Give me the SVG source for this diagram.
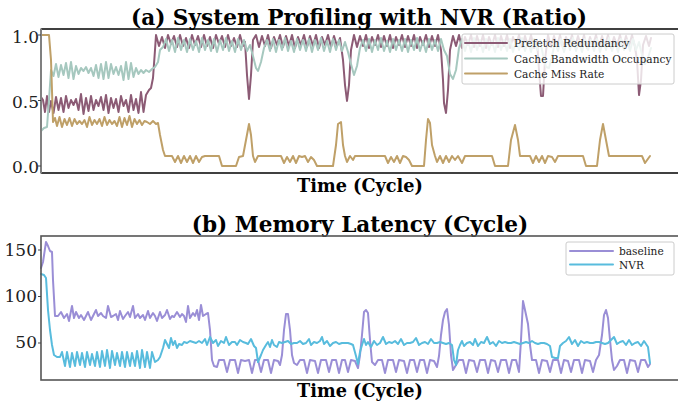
<svg xmlns="http://www.w3.org/2000/svg" width="678" height="403" viewBox="0 0 678 403">
<style>
.title{font-family:"DejaVu Serif",serif;font-weight:bold;font-size:21.6px;fill:#000;text-anchor:middle}
.xl{font-family:"DejaVu Serif",serif;font-weight:bold;font-size:17.7px;fill:#000;text-anchor:middle}
.tk{font-family:"DejaVu Serif",serif;font-size:17px;fill:#222;text-anchor:end}
.lg{font-family:"DejaVu Serif",serif;font-size:10.6px;fill:#222}
.s{fill:none;stroke-width:2;stroke-linejoin:round;stroke-linecap:round}
.pr{stroke:#8c5b75}.bw{stroke:#a6c8bf}.mr{stroke:#bfa068}.bl{stroke:#9a8ed6}.nv{stroke:#58bcdd}
.box{fill:#fff;fill-opacity:0.8;stroke:#cccccc;stroke-width:1}
</style>
<rect width="678" height="403" fill="#fff"/>
<g id="panel-a">
<text class="title" x="359" y="25">(a) System Profiling with NVR (Ratio)</text>
<g id="connectors-a">
<polyline class="s pr" points="41,97 43,100 45,112 47,96 49,112 51,101 53.5,113 56,97 58.5,110 61,98 63.5,112 66,96 68.5,108 71,100 73.5,105 76,99 78.5,110 81,94 83.5,114 86,98 88.5,111 91,96 93.5,110 96,100 98.5,106 101,97 103.5,110 106,95 108.5,113 111,98 113.5,108 116,99 118.5,112 121,96 123.5,106 126,100 128.5,112 131,95 133.5,110 136,99 138.5,113 141,92 143.5,112 146,95 149,90 151,88 153,78 155,50 156,35 159,46 162,37 165,48 168,35 171,44 174,36 177,47 180,35 183,46 186,38 189,48 192,35 195,45 198,36 201,47 204,35 207,46 210,37 213,48 216,35 219,44 222,36 225,47 228,35 231,46 234,38 237,47 240,35 243,46 245,42 247,75 249,99 251,75 253,40 256,35 259,47 262,36 265,46 268,35 271,48 274,37 277,45 280,35 283,47 286,36 289,46 292,35 295,48 298,37 301,45 304,35 307,47 310,36 313,46 316,35 319,48 322,37 325,45 328,35 331,47 334,36 337,46 340,38 343,60 345,85 347,101 349,85 351,50 354,35 357,47 360,36 363,46 366,35 369,48 372,37 375,45 378,35 381,47 384,36 387,46 390,35 393,48 396,37 399,45 402,35 405,47 408,36 411,46 414,35 417,48 420,37 423,45 426,35 429,47 432,36 435,46 438,35 441,50 443,80 444,103 446,113 448,90 450,50 453,36 456,46 459,35 462,48 465,37 468,45 471,35 474,47 477,36 480,46 483,35 486,48 489,37 492,45 495,35 498,47 501,36 504,46 507,35 510,48 513,37 516,45 519,35 522,47 525,36 528,46 531,35 534,48 537,40 539,70 541,96 543,96 545,60 548,35 551,47 554,36 557,46 560,35 563,48 566,37 569,45 572,35 575,47 578,36 581,46 584,35 587,48 590,37 593,45 596,35 599,47 602,36 605,46 608,35 611,48 614,37 617,45 620,35 623,47 626,36 629,46 632,35 635,47 637,60 639,95 641,80 643,45 646,36 649,46 651,38"/>
<polyline class="s bw" points="41,131 44,128 47,127 49,100 51,70 53.5,76 56,64 58.5,77 61,65 63.5,75 66,63 68.5,78 71,62 73.5,79 76,66 78.5,74 81,68 83.5,71 86,67 88.5,73 91,68 93.5,76 96,65 98.5,78 101,64 103.5,79 106,62 108.5,78 111,64 113.5,74 116,67 118.5,75 121,66 123.5,80 126,62 128.5,79 131,63 133.5,77 136,68 138.5,74 141,70 143.5,73 146,70 149,72 152,69 155,67 158,62 160,50 163,47 166,39 169,51 172,40 175,52 178,38 181,50 184,40 187,52 190,39 193,50 196,41 199,52 202,38 205,50 208,40 211,51 214,39 217,52 220,40 223,50 226,38 229,51 232,41 235,52 238,39 241,50 244,40 247,51 250,45 253,56 256,68 258,71 261,62 264,48 267,40 270,51 273,39 276,52 279,40 282,50 285,38 288,51 291,41 294,52 297,39 300,50 303,40 306,51 309,39 312,52 315,40 318,50 321,38 324,51 327,41 330,52 333,39 336,50 339,40 342,51 345,42 348,52 351,64 354,75 357,66 360,48 363,40 366,51 369,39 372,52 375,40 378,50 381,38 384,51 387,41 390,52 393,39 396,50 399,40 402,51 405,39 408,52 411,40 414,50 417,38 420,51 423,41 426,52 429,39 432,50 435,40 438,51 441,39 444,50 447,56 450,74 453,79 456,70 459,48 462,39 465,51 468,40 471,52 474,38 477,50 480,40 483,52 486,39 489,50 492,41 495,52 498,38 501,50 504,40 507,51 510,39 513,52 516,40 519,50 522,38 525,51 528,41 531,52 534,39 537,50 540,40 543,55 546,67 549,68 552,56 555,42 558,51 561,39 564,52 567,40 570,50 573,38 576,51 579,41 582,52 585,39 588,50 591,40 594,51 597,39 600,52 603,40 606,50 609,38 612,51 615,41 618,52 621,39 624,50 627,40 630,51 633,39 636,50 639,42 642,55 645,64 648,58 651,48"/>
<polyline class="s mr" points="41,35 49,35 51,60 53,122 55,118 57,126 59.5,117 62,127 64.5,119 67,125 69.5,118 72,126 74.5,119 77,124 79.5,121 82,124 84.5,120 87,127 89.5,117 92,125 94.5,120 97,124 99.5,119 102,126 104.5,117 107,125 109.5,120 112,124 114.5,121 117,126 119.5,117 122,127 124.5,118 127,125 129.5,116 132,127 134.5,119 137,124 139.5,120 142,125 144.5,121 147,122 150,124 153,121 156,124 158,123 160,135 163,150 165,156 172,156 175,162 178,156 181,163 184,156 187,162 190,156 193,163 196,156 199,162 202,157 205,156 219,156 222,166 236,166 239,157 243,156 246,140 249,124 251,135 253,156 255,162 258,156 281,156 284,163 287,157 290,162 293,156 296,163 299,156 302,157 305,156 308,162 311,157 314,160 317,166 333,166 336,145 338,124 341,122 343,145 345,156 347,162 350,156 353,160 355,156 385,156 388,163 391,157 394,162 397,156 400,163 403,156 406,157 409,160 412,166 424,166 426,140 428,119 430,123 432,145 435,156 437,162 440,156 443,163 446,156 449,162 452,156 455,160 458,156 462,163 465,156 492,156 495,166 508,166 511,140 515,125 518,140 520,156 530,156 533,163 536,156 539,162 542,156 545,163 548,156 552,157 555,162 558,156 583,156 586,166 597,166 600,140 603,124 606,140 609,156 642,156 645,163 650,156"/>
</g>
<line x1="41" y1="29" x2="678" y2="29" stroke="#000" stroke-width="1.3"/>
<line x1="41" y1="173" x2="678" y2="173" stroke="#000" stroke-width="1.3"/>
<line x1="41" y1="28.5" x2="41" y2="173.5" stroke="#808080" stroke-width="2"/>
<g stroke="#444" stroke-width="1"><line x1="38" y1="35" x2="41" y2="35"/><line x1="38" y1="100.5" x2="41" y2="100.5"/><line x1="38" y1="166" x2="41" y2="166"/></g>
<text class="tk" x="39" y="43">1.0</text>
<text class="tk" x="39" y="108">0.5</text>
<text class="tk" x="39" y="173">0.0</text>
<text class="xl" x="360" y="192">Time (Cycle)</text>
<g id="legend-a">
<rect class="box" x="462" y="34" width="212" height="50" rx="2"/>
<line class="s pr" x1="465" y1="43" x2="507" y2="43"/>
<line class="s bw" x1="465" y1="58.5" x2="507" y2="58.5"/>
<line class="s mr" x1="465" y1="73.5" x2="507" y2="73.5"/>
<text class="lg" x="514" y="47">Prefetch Redundancy</text>
<text class="lg" x="514" y="62.5">Cache Bandwidth Occupancy</text>
<text class="lg" x="514" y="77.5">Cache Miss Rate</text>
</g>
</g>
<g id="panel-b">
<text class="title" x="360" y="232">(b) Memory Latency (Cycle)</text>
<g id="connectors-b">
<polyline class="s bl" points="41,268 43,262 46,242 48,246 50,251 52,252 53,280 55,316 58,316 61,312 64,318 67,314 69,321 72,306 74,318 76,312 79,318 81,315 84,320 86,316 88,312 91,320 93,316 96,310 98,316 101,313 103,316 106,318 108,306 111,317 113,316 116,314 118,320 120,311 123,319 125,316 128,312 130,317 133,306 135,318 138,314 140,318 143,315 145,320 148,311 150,318 153,313 155,316 157,321 160,312 162,318 165,315 167,310 170,319 172,316 174,317 177,312 180,317 182,314 184,316 186,322 188,306 190,318 193,313 195,316 197,310 199,320 201,305 203,316 206,314 208,313 210,330 212,360 214,366 217,367 219,360 224,360 227,372 230,360 235,360 238,373 241,360 245,361 249,360 252,373 255,360 258,360 261,372 264,360 268,360 271,373 274,360 278,361 280,365 282,355 284,330 286,314 288,314 290,330 292,355 294,363 297,365 300,360 304,360 307,373 310,360 315,361 318,373 321,360 326,360 329,372 332,360 336,360 339,373 342,360 345,360 348,372 351,360 355,361 358,368 360,355 362,335 364,312 366,310 368,313 370,340 372,362 375,365 378,360 382,360 385,373 388,360 393,360 396,372 399,360 404,361 407,373 410,360 414,360 417,372 420,360 424,360 427,373 430,360 434,361 437,367 439,356 441,335 443,320 445,312 447,309 449,325 451,355 453,370 456,365 459,360 463,360 466,373 469,360 474,361 477,372 480,360 485,360 488,373 491,360 495,361 498,372 501,360 506,360 509,373 512,360 516,360 519,372 521,340 523,301 525,310 528,324 530,345 532,360 536,360 539,373 542,360 547,361 550,372 553,360 558,360 561,373 564,360 568,361 571,372 574,360 579,360 582,373 585,360 590,361 593,372 596,360 599,355 602,335 604,315 606,310 608,318 610,340 612,360 614,370 617,366 620,360 624,360 627,373 630,360 635,361 638,372 641,360 645,360 648,367 650,364"/>
<polyline class="s nv" points="41,274 44,275 46,278 48,310 50,330 52,345 54,355 57,357 60,357 62,352 65,366 67,352 70,367 72,353 75,366 77,352 80,365 82,353 85,367 87,352 90,365 92,354 95,366 97,352 100,367 102,351 105,366 107,350 110,368 112,351 115,365 117,353 120,366 122,352 125,367 127,352 130,366 132,353 135,366 137,351 140,368 142,350 145,367 147,352 150,368 152,352 155,362 158,360 160,357 163,348 165,340 167,344 169,348 171,338 173,345 175,341 177,348 179,344 182,345 184,342 187,343 190,341 193,342 196,343 199,341 202,343 205,339 207,345 210,337 213,343 216,340 218,346 221,341 224,343 226,337 229,345 232,342 235,342 237,345 240,340 243,342 246,343 248,344 251,339 254,346 256,348 258,362 261,355 263,350 266,345 268,342 270,347 272,340 274,345 277,347 279,342 282,343 285,342 288,341 291,344 294,343 297,343 300,341 303,344 306,343 309,339 311,345 314,342 317,343 320,341 322,337 324,344 327,341 330,346 333,343 336,342 339,344 342,343 345,343 348,343 351,344 353,345 356,356 358,364 360,352 362,345 364,339 366,345 368,342 371,347 374,341 377,345 380,343 383,337 386,344 389,342 392,343 395,341 398,344 401,339 404,345 407,343 410,343 413,342 416,338 419,345 422,343 425,342 428,344 431,339 434,343 437,343 440,342 443,343 446,344 449,343 452,345 454,360 456,365 458,350 460,345 462,341 464,346 467,343 470,342 473,345 475,339 478,346 481,342 484,343 487,337 490,344 493,342 496,346 499,341 502,343 505,342 508,343 511,343 514,342 517,343 520,344 523,343 526,342 529,343 532,341 535,343 538,344 541,343 544,343 547,344 550,346 552,357 555,358 558,358 560,346 563,343 566,341 569,337 572,344 575,340 578,346 581,341 584,343 587,342 590,343 593,343 596,342 599,342 602,343 605,344 608,343 611,340 614,337 617,344 620,342 623,341 626,345 629,340 632,345 635,343 638,342 641,346 644,341 646,344 648,347 650,363"/>
</g>
<rect x="41" y="236" width="640" height="144" fill="none" stroke="#555" stroke-width="1.6"/>
<g stroke="#444" stroke-width="1"><line x1="38" y1="250" x2="41" y2="250"/><line x1="38" y1="296.5" x2="41" y2="296.5"/><line x1="38" y1="343" x2="41" y2="343"/></g>
<text class="tk" x="37" y="256">150</text>
<text class="tk" x="37" y="302">100</text>
<text class="tk" x="37" y="348">50</text>
<text class="xl" x="360" y="397">Time (Cycle)</text>
<g id="legend-b">
<rect class="box" x="566" y="242" width="108" height="33" rx="2"/>
<line class="s bl" x1="570" y1="251" x2="613" y2="251"/>
<line class="s nv" x1="570" y1="264.5" x2="613" y2="264.5"/>
<text class="lg" x="619" y="255">baseline</text>
<text class="lg" x="619" y="268.5">NVR</text>
</g>
</g>
</svg>
